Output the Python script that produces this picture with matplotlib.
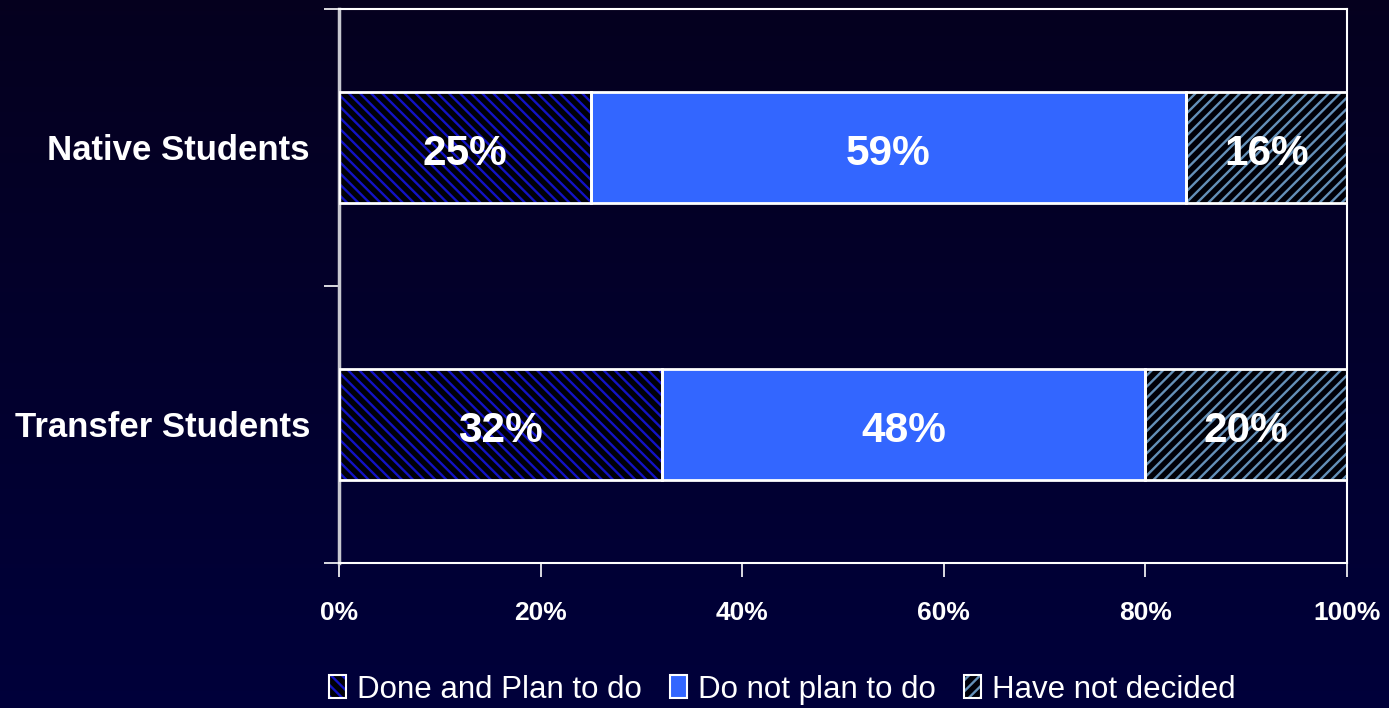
import numpy as np
import matplotlib.pyplot as plt
from matplotlib.legend_handler import HandlerTuple

categories = ['Transfer Students', 'Native Students']
done_plan = [32, 25]
no_plan = [48, 59]
undecided = [20, 16]
series_names = ['Done and Plan to do', 'Do not plan to do', 'Have not decided']
xticks = [0, 20, 40, 60, 80, 100]

plt.rcParams['font.family'] = ['Liberation Sans', 'DejaVu Sans']
plt.rcParams['hatch.linewidth'] = 1.7

fig = plt.figure(figsize=(13.89, 7.08), dpi=100)

# gradient background
bg = fig.add_axes([0, 0, 1, 1], zorder=-10)
grad = np.linspace(0, 1, 256).reshape(-1, 1)
top = np.array([0.02, 0.0, 0.12])
bot = np.array([0.0, 0.0, 0.23])
img = top + (bot - top) * grad[:, :, None]
bg.imshow(img, aspect='auto', extent=[0, 1, 0, 1])
bg.axis('off')

ax = fig.add_axes([0.2441, 0.2048, 0.7257, 0.7825])
ax.set_facecolor('none')

y = np.arange(len(categories))
h = 0.40
lefts = np.zeros(len(categories))
styles = [
    dict(color='#000008', hatch='\\\\\\', hcol='#1212c4'),
    dict(color='#3366ff', hatch=None, hcol='#3366ff'),
    dict(color='#000008', hatch='///', hcol='#6490b8'),
]
handles = []
for vals, st, name in zip([done_plan, no_plan, undecided], styles, series_names):
    ax.barh(y, vals, height=h, left=lefts, color=st['color'], hatch=st['hatch'],
            edgecolor=st['hcol'], linewidth=0, zorder=2)
    ax.barh(y, vals, height=h, left=lefts, fill=False, edgecolor='white',
            linewidth=2, zorder=3)
    for yi, l, v in zip(y, lefts, vals):
        ax.text(l + v / 2, yi - 0.022, f'{v}%', ha='center', va='center', color='white',
                fontsize=30.5, fontweight='bold', zorder=4)
    inner = plt.Rectangle((0, 0), 1, 1, facecolor=st['color'], hatch=st['hatch'],
                          edgecolor=st['hcol'], linewidth=0)
    outline = plt.Rectangle((0, 0), 1, 1, fill=False, edgecolor='white', linewidth=1.5)
    handles.append((inner, outline))
    lefts = lefts + np.array(vals)

ax.set_xlim(0, 100)
ax.set_ylim(-0.5, 1.5)
ax.set_xticks(xticks)
ax.set_xticklabels([f'{t}%' for t in xticks], color='white', fontsize=19,
                   fontweight='bold')
ax.tick_params(axis='x', colors='white', length=10, width=1.2, pad=17)
ax.set_yticks([-0.5, 0.5, 1.5])
ax.set_yticklabels([])
ax.tick_params(axis='y', colors='white', length=11, width=1.2)
ax.set_yticks(y, minor=True)
ax.set_yticklabels(categories, minor=True, color='white', fontsize=25,
                   fontweight='bold')
ax.tick_params(axis='y', which='minor', length=0, pad=21)

for s in ['top', 'right', 'bottom']:
    ax.spines[s].set_color('white')
    ax.spines[s].set_linewidth(1.5)
ax.spines['left'].set_color('#c8c8d0')
ax.spines['left'].set_linewidth(2.5)

fig.legend(handles, series_names, loc='lower center', bbox_to_anchor=(0.563, -0.035),
           ncol=3, frameon=False, fontsize=22.5, labelcolor='white',
           handler_map={tuple: HandlerTuple(ndivide=1, pad=0)},
           handlelength=0.55, handleheight=0.75, handletextpad=0.35,
           columnspacing=0.9)

fig.savefig('out.png', dpi=100)
